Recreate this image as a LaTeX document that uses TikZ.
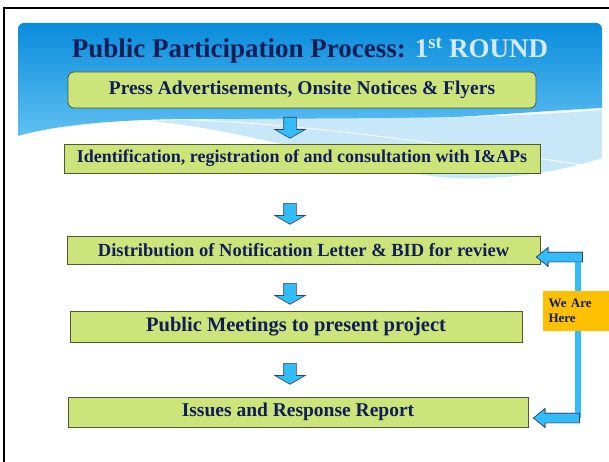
\documentclass[tikz,border=0pt]{standalone}
\usepackage{fontspec}
\setmainfont{Liberation Serif}
\usepackage{xcolor}
\usetikzlibrary{shapes.arrows}
\definecolor{navyText}{RGB}{16,30,88}
\definecolor{stepGreen}{RGB}{205,228,122}
\definecolor{stepEdge}{RGB}{80,90,50}
\definecolor{arrowBlue}{RGB}{51,187,250}
\definecolor{arrowEdge}{RGB}{40,70,110}
\definecolor{hereOrange}{RGB}{255,192,0}
\definecolor{headTop}{RGB}{10,140,220}
\definecolor{headBottom}{RGB}{95,192,242}
\definecolor{swooshBlue}{RGB}{200,232,250}
\definecolor{roundLight}{RGB}{212,234,252}

\tikzset{
  stepbox/.style={draw=stepEdge, fill=stepGreen, text=navyText, line width=0.8, inner sep=0, font=\fontsize{19}{21}\selectfont\bfseries},
  downarrow/.style={shape=single arrow, draw=arrowEdge, fill=arrowBlue, line width=0.6, shape border rotate=270, single arrow head extend=9, inner sep=6, minimum height=21, single arrow tip angle=120, anchor=tail},
  backarrow/.style={shape=single arrow, draw=arrowEdge, fill=arrowBlue, line width=0.6, shape border rotate=180, single arrow head extend=4.5, inner sep=4.5, minimum height=46, single arrow tip angle=78, anchor=tip},
  fbline/.style={arrowBlue, line width=6},
}

\begin{document}
\begin{tikzpicture}[x=1pt, y=-1pt]
  \useasboundingbox (0,0) rectangle (609,462);
  % slide frame
  \draw[line width=2] (609,8) -- (4,8) -- (4,462);
  % header band with wave
  \begin{scope}
    \clip[rounded corners=6] (18,23) rectangle (602,300);
    \shade[top color=headTop, bottom color=headBottom] (18,136) -- (18,23) -- (602,23) -- (602,108)
      .. controls (520,112) and (420,122) .. (300,122)
      .. controls (200,116) and (80,118) .. (18,136) -- cycle;
    \fill[swooshBlue] (150,121) .. controls (300,116) and (450,122) .. (602,110) -- (602,158)
      .. controls (560,172) and (500,182) .. (440,177)
      .. controls (360,168) and (250,130) .. (150,121) -- cycle;
    \draw[white, line width=0.8] (190,120) .. controls (300,124) and (420,140) .. (602,168);
  \end{scope}

  \node[font=\fontsize{27}{29}\selectfont\bfseries, text=navyText, anchor=base] (title) at (310,58)
    {Public Participation Process: \textcolor{roundLight}{1\textsuperscript{st} ROUND}};

  \node[stepbox, rounded corners=6, minimum width=468, minimum height=36, font=\fontsize{19.5}{21}\selectfont\bfseries] (press) at (302,90) {Press Advertisements, Onsite Notices \& Flyers};
  \node[stepbox, minimum width=476, minimum height=29, font=\fontsize{18}{20}\selectfont\bfseries] (ident) at (302,158.5) {Identification, registration of and consultation with I\&APs};
  \node[stepbox, minimum width=473, minimum height=28, font=\fontsize{18.5}{20}\selectfont\bfseries] (dist) at (303.5,250) {Distribution of Notification Letter \& BID for review};
  \node[stepbox, minimum width=452, minimum height=31, font=\fontsize{20.5}{22}\selectfont\bfseries] (meet) at (296,326.5) {Public Meetings to present project};
  \node[stepbox, minimum width=460, minimum height=30, font=\fontsize{19.5}{21}\selectfont\bfseries] (issues) at (298,412) {Issues and Response Report};

  % flow arrows
  \node[downarrow] (a1) at (290,117) {};
  \node[downarrow] (a2) at (290,203) {};
  \node[downarrow] (a3) at (290,283) {};
  \node[downarrow] (a4) at (290,363) {};

  % we are here
  \node[fill=hereOrange, text=navyText, text width=55, inner xsep=5.5, inner ysep=0, minimum height=40, align=left,
        font=\fontsize{13}{15}\selectfont\bfseries] (here) at (576,311) {We Are\\Here};
  \node[backarrow] (back1) at (536,257) {};
  \node[backarrow] (back2) at (533,418) {};
  \draw[fbline] ([xshift=2]here.north) -- ([xshift=2]here.north |- back1.tail);
  \draw[fbline] ([xshift=2]here.south) -- ([xshift=2]here.south |- back2.tail);
  \node[backarrow] at (back1.tip) {};
  \node[backarrow] at (back2.tip) {};
\end{tikzpicture}
\end{document}
